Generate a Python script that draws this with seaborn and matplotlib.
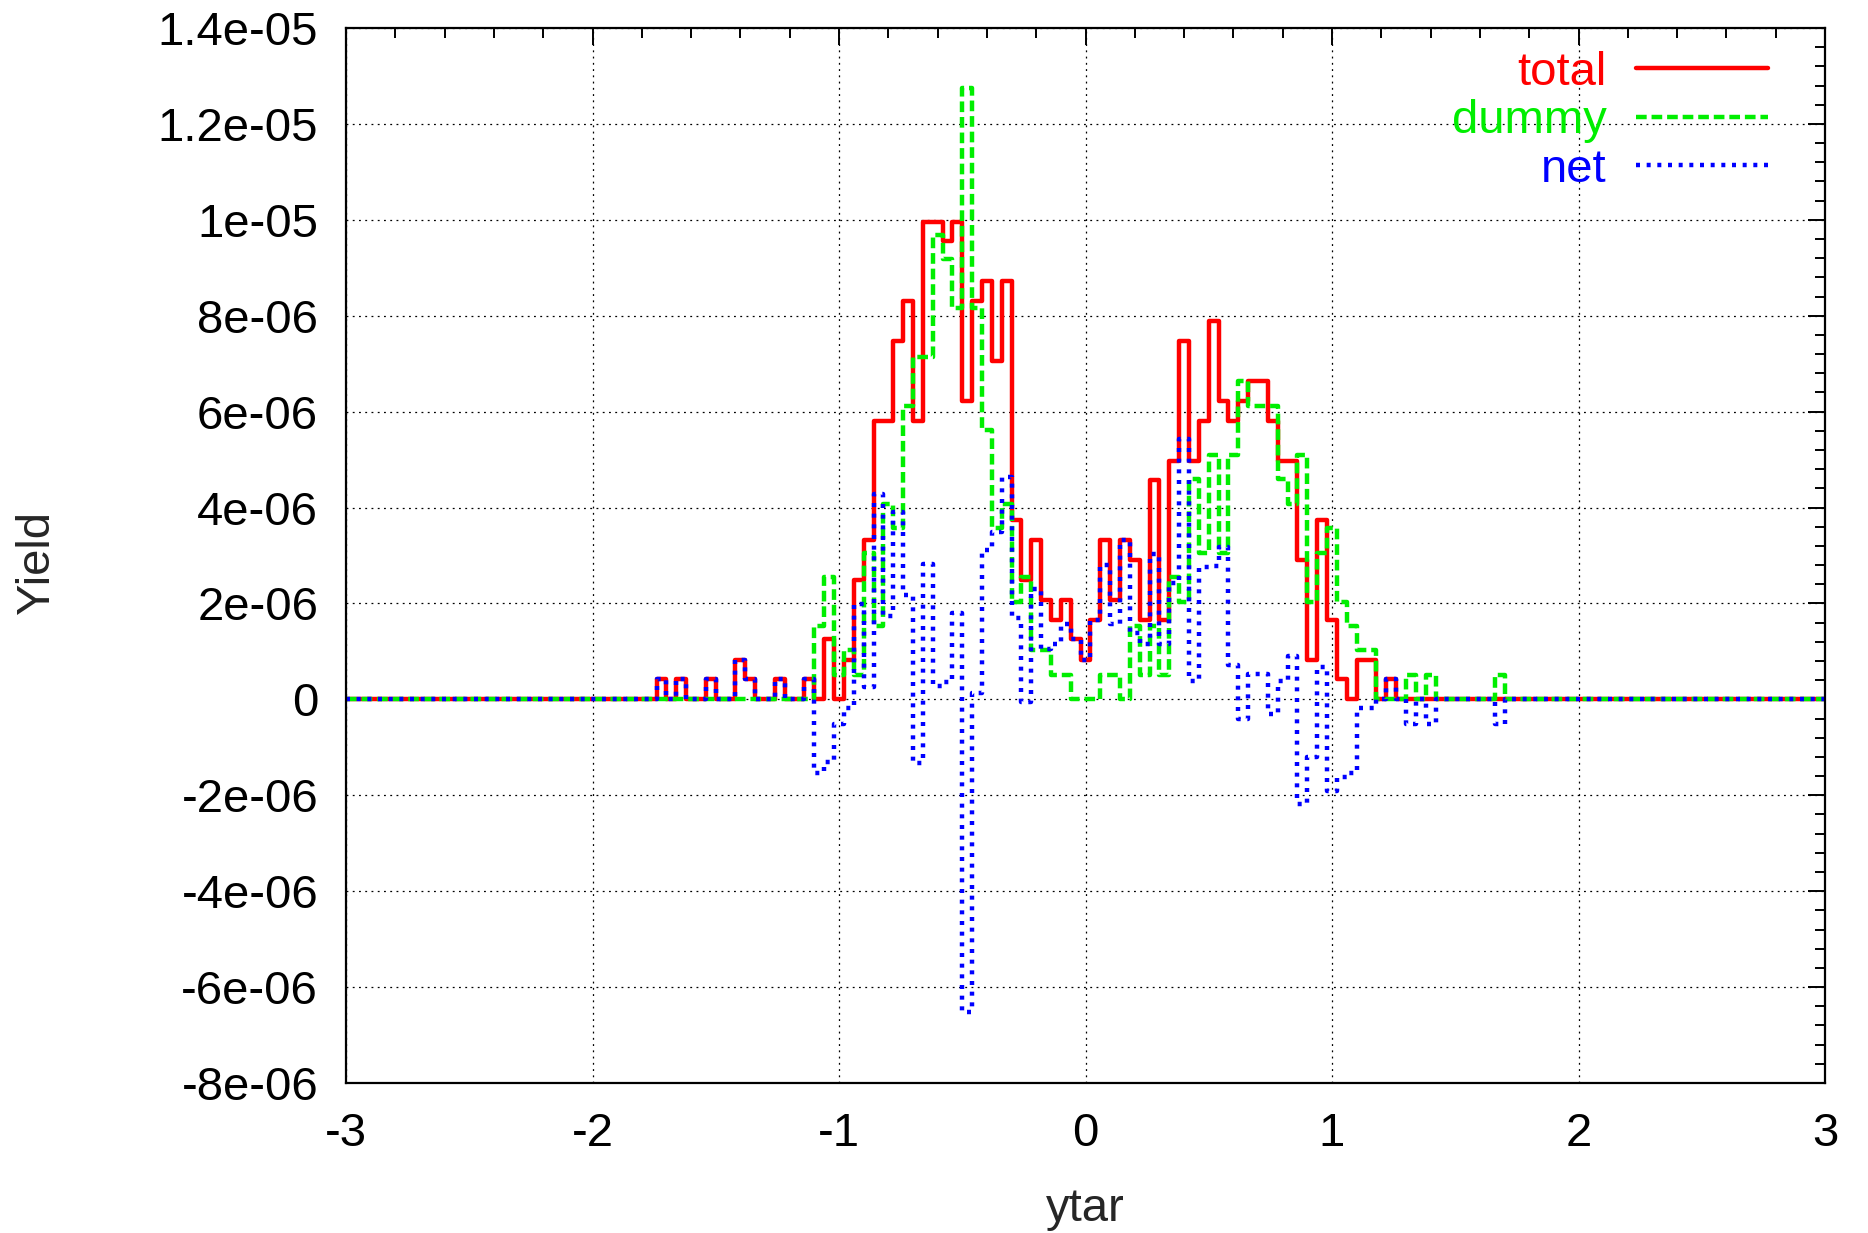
import numpy as np
import pandas as pd
import matplotlib
matplotlib.use("Agg")
import matplotlib.pyplot as plt
from matplotlib.ticker import MultipleLocator, FixedLocator, FuncFormatter
import seaborn as sns

# ---- data (values in units of 1e-6), histogram bins centred -1.76 ... 1.72 (step 0.04) ----
first_center = -1.76
total_e6 = [
    0, 0.42, 0, 0.42, 0, 0, 0.42, 0, 0, 0.83,
    0.42, 0, 0, 0.42, 0, 0, 0.42, 0, 1.25, 0,
    0.83, 2.49, 3.32, 5.81, 5.81, 7.47, 8.30, 5.81, 9.96, 9.96,
    9.55, 9.96, 6.23, 8.30, 8.72, 7.06, 8.72, 3.74, 2.49, 3.32,
    2.08, 1.66, 2.08, 1.25, 0.83, 1.66, 3.32, 2.08, 3.32, 2.91,
    1.66, 4.57, 1.66, 4.98, 7.47, 4.98, 5.81, 7.89, 6.23, 5.81,
    6.23, 6.64, 6.64, 5.81, 4.98, 4.98, 2.91, 0.83, 3.74, 1.66,
    0.42, 0, 0.83, 0.83, 0, 0.42, 0, 0, 0, 0,
    0, 0, 0, 0, 0, 0, 0, 0,
]
dummy_e6 = [
    0, 0, 0, 0, 0, 0, 0, 0, 0, 0,
    0, 0, 0, 0, 0, 0, 0, 1.53, 2.55, 0.51,
    1.02, 0.51, 3.06, 1.53, 4.08, 3.57, 6.12, 7.14, 7.14, 9.69,
    9.18, 8.16, 12.75, 8.16, 5.61, 3.57, 4.08, 2.04, 2.55, 1.02,
    1.02, 0.51, 0.51, 0, 0, 0, 0.51, 0.51, 0, 1.53,
    0.51, 1.53, 0.51, 2.55, 2.04, 4.59, 3.06, 5.10, 3.06, 5.10,
    6.63, 6.12, 6.12, 6.12, 4.59, 4.08, 5.10, 2.04, 3.06, 3.57,
    2.04, 1.53, 1.02, 1.02, 0, 0, 0, 0.51, 0, 0.51,
    0, 0, 0, 0, 0, 0, 0.51, 0,
]
net_e6 = [
    0, 0.42, 0, 0.42, 0, 0, 0.42, 0, 0, 0.83,
    0.42, 0, 0, 0.42, 0, 0, 0.42, -1.53, -1.30, -0.51,
    -0.19, 1.98, 0.26, 4.28, 1.73, 3.90, 2.18, -1.33, 2.82, 0.27,
    0.37, 1.80, -6.52, 0.14, 3.11, 3.49, 4.64, 1.70, -0.06, 2.30,
    1.06, 1.15, 1.57, 1.25, 0.83, 1.66, 2.81, 1.57, 3.32, 1.38,
    1.15, 3.04, 1.15, 2.43, 5.43, 0.39, 2.75, 2.79, 3.17, 0.71,
    -0.40, 0.52, 0.52, -0.31, 0.39, 0.90, -2.19, -1.21, 0.68, -1.91,
    -1.62, -1.53, -0.19, -0.19, 0, 0.42, 0, -0.51, 0, -0.51,
    0, 0, 0, 0, 0, 0, -0.51, 0,
]
series_names = ["total", "dummy", "net"]
series_colors = ["#ff0000", "#00ee00", "#0000ff"]
x_ticks = [-3, -2, -1, 0, 1, 2, 3]
y_ticks_e6 = [-8, -6, -4, -2, 0, 2, 4, 6, 8, 10, 12, 14]

# full histogram grid -3 ... 3 (bins outside the listed range are empty)
centers = np.round(np.arange(-3.0, 3.0 + 1e-9, 0.04), 2)
i0 = int(round((first_center + 3.0) / 0.04))

def full(vals):
    arr = np.zeros(len(centers))
    arr[i0:i0 + len(vals)] = np.array(vals) * 1e-6
    return arr

df = pd.DataFrame({"ytar": centers,
                   "total": full(total_e6),
                   "dummy": full(dummy_e6),
                   "net": full(net_e6)})

sns.set_style("white")
plt.rcParams["font.family"] = ["Liberation Sans", "DejaVu Sans"]

W, H = 1868, 1233
fig = plt.figure(figsize=(W / 100, H / 100), dpi=100)
L, R, T, B = 346, 1825, 28, 1083
ax = fig.add_axes([L / W, 1 - B / H, (R - L) / W, (B - T) / H])

lw = 3.2
styles = {"total": "-", "dummy": (0, (2.4, 1.1)), "net": (0, (0.9, 1.5))}
for name, col in zip(series_names, series_colors):
    sns.lineplot(data=df, x="ytar", y=name, ax=ax, color=col, lw=lw,
                 linestyle=styles[name], drawstyle="steps-mid",
                 estimator=None, sort=False, label=name)

ax.set_xlim(-3, 3)
ax.set_ylim(-8e-6, 1.4e-5)
ax.xaxis.set_major_locator(FixedLocator(x_ticks))
ax.xaxis.set_minor_locator(MultipleLocator(0.2))
ax.yaxis.set_major_locator(FixedLocator([v * 1e-6 for v in y_ticks_e6]))
ax.yaxis.set_minor_locator(MultipleLocator(4e-7))
ax.xaxis.set_major_formatter(FuncFormatter(lambda v, p: f"{v:g}"))
ax.yaxis.set_major_formatter(FuncFormatter(lambda v, p: f"{round(v * 1e6) * 1e-6:g}"))

ax.grid(True, which="major", color="black", lw=0.9, linestyle=(0, (1.5, 3.5)))
ax.set_axisbelow(True)
for s in ax.spines.values():
    s.set_linewidth(1.6)
    s.set_color("black")
ax.tick_params(which="both", direction="in", top=True, right=True,
               colors="black", labelsize=34)
ax.tick_params(which="major", length=12, width=1.4)
ax.tick_params(which="minor", length=7, width=1.4)
ax.tick_params(axis="x", which="major", pad=21)
ax.tick_params(axis="y", which="major", pad=20)

ax.set_xlabel("")
ax.set_ylabel("")
fig.text((L + R) / 2 / W, 1 - 1209 / H, "ytar", fontsize=34, ha="center", va="center")
fig.text(37 / W, 1 - 562 / H, "Yield", fontsize=34, ha="center", va="center", rotation=90)

leg = ax.legend(loc="upper right", bbox_to_anchor=((1768 - L) / (R - L), (B - 51) / (B - T)),
                frameon=False, markerfirst=False, fontsize=34, handlelength=2.8,
                handletextpad=0.62, labelspacing=0.09, borderpad=0, borderaxespad=0,
                labelcolor="linecolor")

fig.savefig("out.png", dpi=100)
